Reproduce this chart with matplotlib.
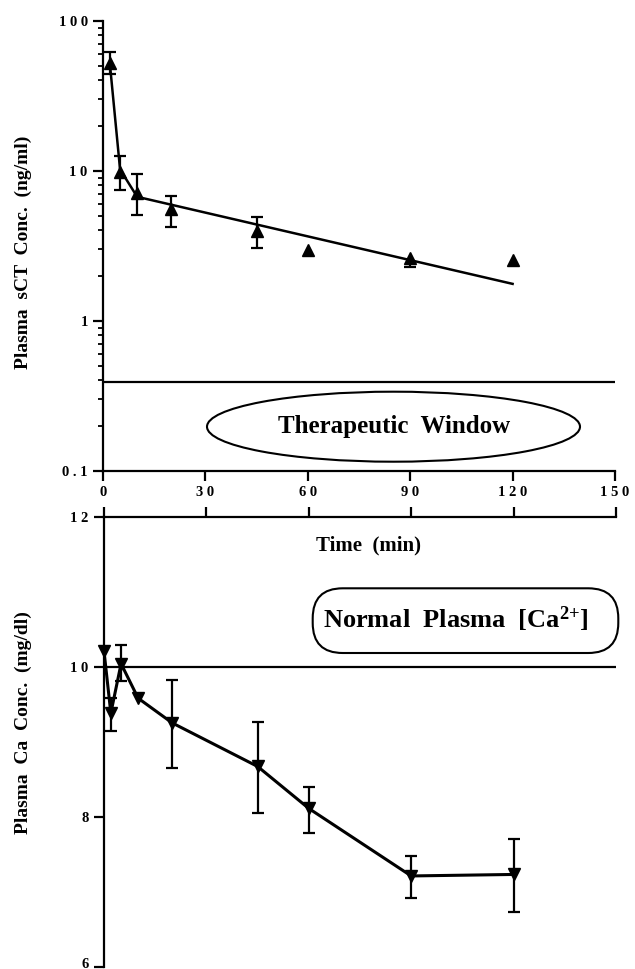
import matplotlib
matplotlib.use('Agg')
import matplotlib.pyplot as plt
import matplotlib.ticker as mticker
import matplotlib.transforms as mtransforms
from matplotlib.patches import Ellipse, FancyBboxPatch

plt.rcParams['font.family'] = ['Liberation Serif', 'DejaVu Serif']
plt.rcParams['font.weight'] = 'bold'
plt.rcParams['mathtext.fontset'] = 'custom'
plt.rcParams['mathtext.rm'] = 'Liberation Serif:bold'
plt.rcParams['mathtext.bf'] = 'Liberation Serif:bold'
plt.rcParams['mathtext.it'] = 'Liberation Serif:bold'
plt.rcParams['mathtext.default'] = 'bf'

# ---------------- data ----------------
sct_time = [2, 5, 10, 20, 45, 60, 90, 120]
sct_conc = [52.2, 9.8, 7.1, 5.56, 3.96, 2.96, 2.62, 2.54]
sct_err_low = [8.0, 2.4, 2.0, 1.36, 0.93, 0.0, 0.33, 0.0]
sct_err_high = [9.9, 2.8, 2.4, 1.24, 0.94, 0.0, 0.0, 0.0]
fit_time = [2, 5, 10, 120]
fit_conc = [52.0, 10.2, 6.7, 1.76]
therapeutic_level = 0.39

ca_time = [0, 2, 5, 10, 20, 45, 60, 90, 120]
ca_conc = [10.21, 9.38, 10.04, 9.58, 9.25, 8.67, 8.11, 7.21, 7.23]
ca_err_low = [0.0, 0.24, 0.23, 0.0, 0.60, 0.62, 0.33, 0.29, 0.50]
ca_err_high = [0.0, 0.20, 0.25, 0.0, 0.57, 0.59, 0.29, 0.26, 0.47]
normal_ca = 10.0

time_ticks = [0, 30, 60, 90, 120, 150]
time_ticklabels = ['0', '3 0', '6 0', '9 0', '1 2 0', '1 5 0']
sct_ticks = [0.1, 1, 10, 100]
sct_ticklabels = ['0 . 1', '1', '1 0', '1 0 0']
ca_ticks = [6, 8, 10, 12]
ca_ticklabels = ['6', '8', '1 0', '1 2']

W, H = 635, 969
fig = plt.figure(figsize=(W / 100, H / 100), dpi=100)


def draw_errors(ax, t, c, lo, hi):
    for ti, ci, l, h in zip(t, c, lo, hi):
        if l > 0:
            ax.vlines(ti, ci - l, ci, color='black', lw=1.6, zorder=2)
            ax.plot([ti], [ci - l], marker='_', ms=9, mew=1.6, color='black', zorder=2)
        if h > 0:
            ax.vlines(ti, ci, ci + h, color='black', lw=1.6, zorder=2)
            ax.plot([ti], [ci + h], marker='_', ms=9, mew=1.6, color='black', zorder=2)


# ---------------- top panel ----------------
ax1 = fig.add_axes([103 / W, 1 - 470.7 / H, 512 / W, 450 / H])
ax1.set_yscale('log')
ax1.set_xlim(0, 150)
ax1.set_ylim(0.1, 100)
for s in ['top', 'right']:
    ax1.spines[s].set_visible(False)
for s in ['left', 'bottom']:
    ax1.spines[s].set_linewidth(1.6)
ax1.set_xticks(time_ticks, labels=time_ticklabels)
ax1.set_yticks(sct_ticks, labels=sct_ticklabels)
ax1.yaxis.set_minor_locator(mticker.LogLocator(base=10, subs=range(2, 10)))
ax1.yaxis.set_minor_formatter(mticker.NullFormatter())
ax1.tick_params(which='major', direction='out', length=7, width=1.6,
                labelsize=10.5, pad=4)
ax1.tick_params(which='minor', direction='out', length=3.5, width=1.3)

ax1.axhline(therapeutic_level, color='black', lw=1.6)
ax1.plot(fit_time, fit_conc, color='black', lw=1.8, zorder=3)
draw_errors(ax1, sct_time, sct_conc, sct_err_low, sct_err_high)
ax1.plot(sct_time, sct_conc, linestyle='none', marker='^', ms=9,
         color='black', zorder=4, clip_on=False)

# ---------------- bottom panel ----------------
ax2 = fig.add_axes([104 / W, 1 - 966.7 / H, 512 / W, 450 / H])
ax2.set_xlim(0, 150)
ax2.set_ylim(6, 12)
for s in ['bottom', 'right']:
    ax2.spines[s].set_visible(False)
for s in ['left', 'top']:
    ax2.spines[s].set_linewidth(1.6)
ax2.xaxis.tick_top()
ax2.set_xticks(time_ticks)
ax2.tick_params(axis='x', direction='out', length=7, width=1.6,
                top=True, bottom=False, labeltop=False, labelbottom=False)
ax2.set_yticks(ca_ticks, labels=ca_ticklabels)
ax2.tick_params(axis='y', direction='out', length=7, width=1.6,
                labelsize=10.5, pad=4)
# lift the lowest label slightly so it stays inside the figure
lowest = ax2.get_yticklabels()[0]
lowest.set_transform(lowest.get_transform() +
                     mtransforms.ScaledTranslation(0, 4 / 100, fig.dpi_scale_trans))

ax2.axhline(normal_ca, color='black', lw=1.6)
draw_errors(ax2, ca_time, ca_conc, ca_err_low, ca_err_high)
ax2.plot(ca_time, ca_conc, color='black', lw=2.2, marker='v', ms=9,
         zorder=4, clip_on=False)

# ---------------- overlay annotations (pixel coordinates) ----------------
ov = fig.add_axes([0, 0, 1, 1])
ov.set_xlim(0, W)
ov.set_ylim(H, 0)
ov.axis('off')

ov.add_patch(Ellipse((393.5, 426.7), 373, 70, fill=False, lw=1.5,
                     edgecolor='black'))
ov.text(394, 426, 'Therapeutic  Window', fontsize=18, fontweight='bold',
        ha='center', va='center')

ov.text(368, 545, 'Time  (min)', fontsize=15, fontweight='bold',
        ha='center', va='center')

ov.add_patch(FancyBboxPatch((312.7, 588.3), 305.6, 64.7,
                            boxstyle='round,pad=0,rounding_size=30',
                            fill=False, lw=1.5, edgecolor='black'))
ov.text(456, 619, r'Normal  Plasma  [Ca$^{2{+}}$]', fontsize=19,
        fontweight='bold', ha='center', va='center')

fig.text(23 / W, 1 - 252.5 / H, 'Plasma  sCT  Conc.  (ng/ml)', fontsize=14,
         fontweight='bold', rotation=90, ha='center', va='center')
fig.text(23 / W, 1 - 722.5 / H, 'Plasma  Ca  Conc.  (mg/dl)', fontsize=14,
         fontweight='bold', rotation=90, ha='center', va='center')

fig.savefig('out.png', dpi=100)
